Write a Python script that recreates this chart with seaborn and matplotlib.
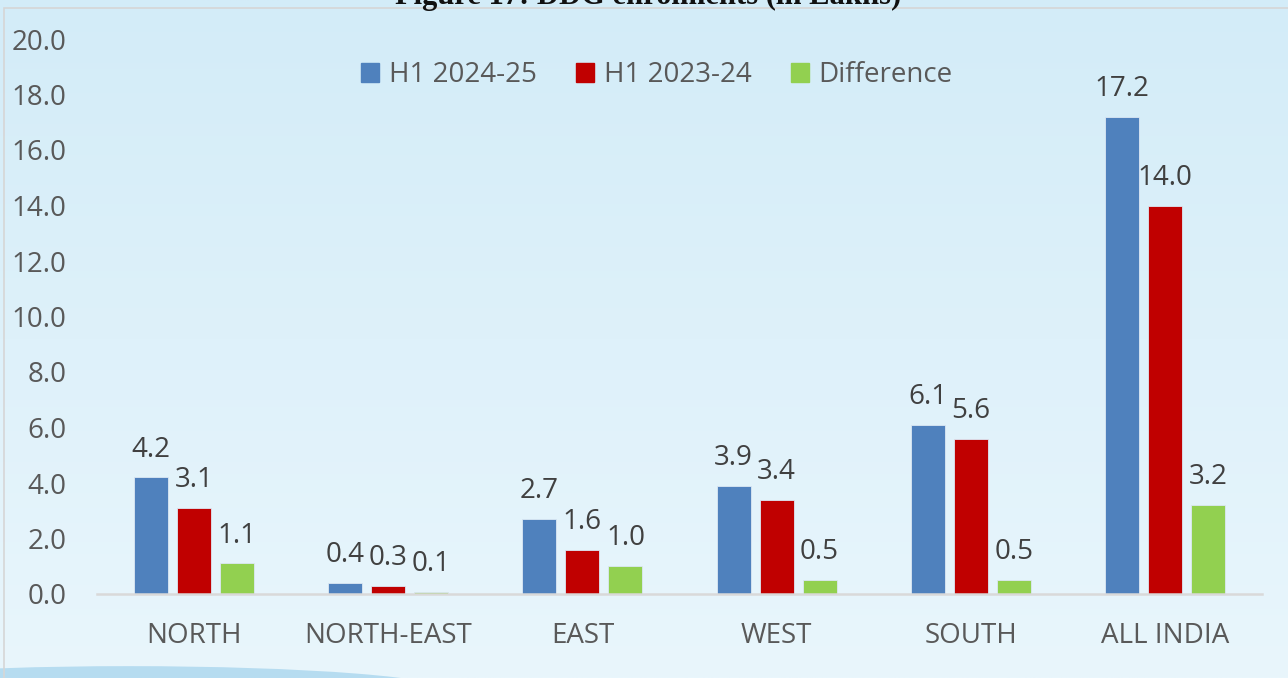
import numpy as np
import pandas as pd
import matplotlib
matplotlib.use("Agg")
import matplotlib.pyplot as plt
import seaborn as sns
from matplotlib.patches import Rectangle, Ellipse
from matplotlib.ticker import FormatStrFormatter

# ---- data ----
regions = ["NORTH", "NORTH-EAST", "EAST", "WEST", "SOUTH", "ALL INDIA"]
series_names = ["H1 2024-25", "H1 2023-24", "Difference"]
h1_2024_25 = [4.2, 0.4, 2.7, 3.9, 6.1, 17.2]
h1_2023_24 = [3.1, 0.3, 1.6, 3.4, 5.6, 14.0]
difference = [1.1, 0.06, 1.0, 0.5, 0.5, 3.2]
title_text = "Figure 17: DDG enrolments (in Lakhs)"

colors = ["#4f81bd", "#c00000", "#92d050"]

df = pd.DataFrame({
    "region": regions * 3,
    "series": [series_names[0]] * 6 + [series_names[1]] * 6 + [series_names[2]] * 6,
    "value": h1_2024_25 + h1_2023_24 + difference,
})

sns.set_style("white")
plt.rcParams["font.family"] = ["Open Sans", "DejaVu Sans"]

W, H = 1288, 678
FS = 20
fig = plt.figure(figsize=(W / 100, H / 100), dpi=100)

# background gradient
bg = fig.add_axes([0, 0, 1, 1], zorder=-10)
top = np.array([211, 236, 248]) / 255
bot = np.array([233, 246, 252]) / 255
t = np.linspace(0, 1, 256)[:, None]
grad = top[None, :] * (1 - t) + bot[None, :] * t
img = np.repeat(grad[:, None, :], 4, axis=1)
bg.imshow(img, aspect="auto", extent=[0, 1, 0, 1], origin="upper")
bg.add_patch(Ellipse((0.1, -0.02), 0.5, 0.075, color="#8ec8e8", alpha=0.55, lw=0))
bg.add_patch(Ellipse((0.1, -0.03), 0.42, 0.06, color="#5fb0e0", alpha=0.35, lw=0))
bg.add_patch(Rectangle((4 / W, -0.01), 1.0, 1 - 8 / H + 0.01, fill=False,
                       edgecolor="#d6d6d6", lw=1.2))
bg.set_xlim(0, 1)
bg.set_ylim(0, 1)
bg.axis("off")

# title (cut off at the top edge, as in the reference)
fig.text(0.503, 1 + 4 / H, title_text, ha="center", va="center",
         fontsize=22, fontweight="bold", family="Liberation Serif", color="#111111")

ax = fig.add_axes([97 / W, 84 / H, (1262 - 97) / W, (639 - 84) / H])
ax.patch.set_alpha(0)

sns.barplot(data=df, x="region", y="value", hue="series", palette=colors,
            saturation=1, width=0.665, gap=0.21, ax=ax, legend=False,
            edgecolor="#dce8f4", linewidth=0.6)

ax.set_ylim(0, 20)
ax.set_yticks(np.arange(0, 20.1, 2))
ax.yaxis.set_major_formatter(FormatStrFormatter("%.1f"))
ax.set_xlabel("")
ax.set_ylabel("")
for s in ["top", "right", "left"]:
    ax.spines[s].set_visible(False)
ax.spines["bottom"].set_color("#d9d9d9")
ax.spines["bottom"].set_linewidth(1.8)
ax.tick_params(axis="both", length=0, labelsize=FS, labelcolor="#595959")
ax.tick_params(axis="y", pad=22)
ax.tick_params(axis="x", pad=20.5)

all_vals = [h1_2024_25, h1_2023_24, difference]
for cont, vals in zip(ax.containers, all_vals):
    ax.bar_label(cont, labels=[f"{v:.1f}" for v in vals], padding=10,
                 fontsize=FS, color="#404040")

handles = [Rectangle((0, 0), 1, 1, color=c) for c in colors]
fig.legend(handles, series_names, loc="center", bbox_to_anchor=(657 / W, 1 - 75 / H),
           ncol=3, frameon=False, fontsize=FS, labelcolor="#595959",
           handlelength=0.66, handleheight=0.66, handletextpad=0.35,
           columnspacing=1.4)

fig.savefig("out.png", dpi=100)
